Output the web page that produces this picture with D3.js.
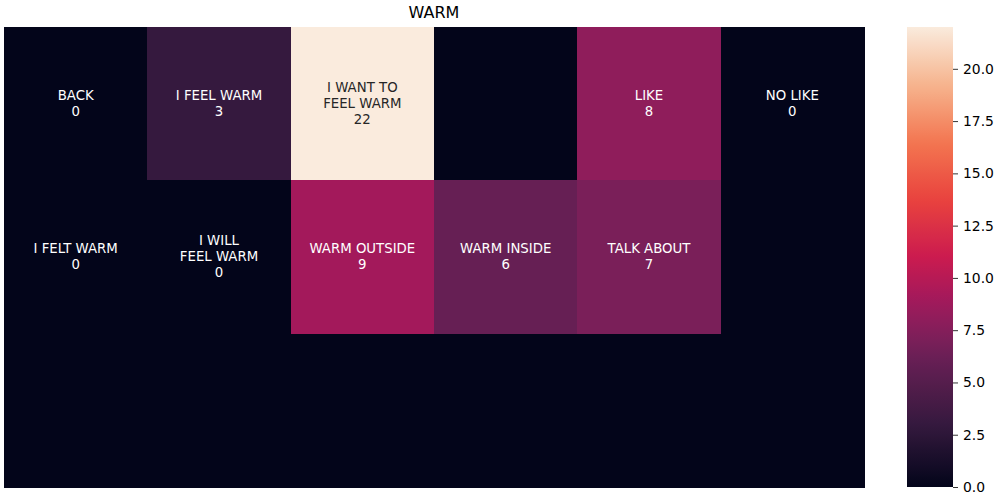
<!DOCTYPE html>
<html>
<head>
<meta charset="utf-8">
<script src="https://cdn.jsdelivr.net/npm/d3@7"></script>
<style>
  body { margin: 0; background: #fff; }
  text { font-family: "DejaVu Sans", sans-serif; }
</style>
</head>
<body>
<div id="viz"></div>
<script>
// chart data: one row per heatmap row, "" means no annotation
const chartTitle = "WARM";
const rowLabels = [
  ["BACK", "I FEEL WARM", "I WANT TO\nFEEL WARM", "", "LIKE", "NO LIKE"],
  ["I FELT WARM", "I WILL\nFEEL WARM", "WARM OUTSIDE", "WARM INSIDE", "TALK ABOUT", ""],
  ["", "", "", "", "", ""]
];
const rowValues = [
  [0, 3, 22, 0, 8, 0],
  [0, 0, 9, 6, 7, 0],
  [0, 0, 0, 0, 0, 0]
];
const colorbarTicks = [0, 2.5, 5, 7.5, 10, 12.5, 15, 17.5, 20];

// approximation of seaborn "rocket"
const rocketStops = [0, 0.136, 0.273, 0.318, 0.364, 0.409, 0.5, 0.625, 0.75, 0.875, 1];
const rocketColors = ["#03051A", "#35193E", "#661F54", "#7A1F59", "#8F1D5B", "#A3195B",
                      "#CB1B4F", "#E9433E", "#F37651", "#F6B48E", "#FAEBDD"];

const width = 1000, height = 500;
const margin = {left: 4, top: 27, right: 136, bottom: 13};
const plotW = width - margin.left - margin.right;
const plotH = height - margin.top - margin.bottom;

const svg = d3.select("#viz").append("svg")
  .attr("width", width)
  .attr("height", height);

const nRows = rowValues.length, nCols = rowValues[0].length;
const maxVal = d3.max(rowValues.flat());

const xScale = d3.scaleBand().domain(d3.range(nCols)).range([margin.left, margin.left + plotW]);
const yScale = d3.scaleBand().domain(d3.range(nRows)).range([margin.top, margin.top + plotH]);

const rocket = d3.scaleLinear()
  .domain(rocketStops.map(s => s * maxVal))
  .range(rocketColors)
  .interpolate(d3.interpolateRgb);

// flatten into cells
let cells = [];
rowValues.forEach((row, r) => row.forEach((v, c) => {
  cells.push({row: r, col: c, value: v, label: rowLabels[r][c]});
}));

const g = svg.append("g");
g.selectAll("rect")
  .data(cells)
  .enter().append("rect")
    .attr("x", d => xScale(d.col))
    .attr("y", d => yScale(d.row))
    .attr("width", xScale.bandwidth() + 1)
    .attr("height", yScale.bandwidth() + 1)
    .attr("shape-rendering", "crispEdges")
    .style("fill", d => rocket(d.value));

// annotations: label lines plus the value
const lineH = 16;
const annot = g.selectAll("text.annot")
  .data(cells.filter(d => d.label !== ""))
  .enter().append("text")
    .attr("class", "annot")
    .attr("text-anchor", "middle")
    .attr("font-size", "13.3px")
    .style("fill", d => d.value / maxVal > 0.6 ? "#262626" : "#ffffff");

annot.each(function(d) {
  let lines = d.label.split("\n").concat([String(d.value)]);
  let cx = xScale(d.col) + xScale.bandwidth() / 2;
  let cy = yScale(d.row) + yScale.bandwidth() / 2;
  let y0 = cy - (lines.length - 1) / 2 * lineH;
  d3.select(this).selectAll("tspan")
    .data(lines)
    .enter().append("tspan")
      .attr("x", cx)
      .attr("y", (l, i) => y0 + i * lineH)
      .attr("dy", "0.3em")
      .text(l => l);
});

// title
svg.append("text")
  .attr("x", margin.left + plotW / 2)
  .attr("y", 18)
  .attr("text-anchor", "middle")
  .attr("font-size", "16px")
  .text(chartTitle);

// colorbar
const cbX = 907, cbW = 46;
const defs = svg.append("defs");
const grad = defs.append("linearGradient")
  .attr("id", "cbgrad")
  .attr("x1", 0).attr("y1", 1).attr("x2", 0).attr("y2", 0);
grad.selectAll("stop")
  .data(d3.range(0, 1.0001, 0.02))
  .enter().append("stop")
    .attr("offset", t => t)
    .attr("stop-color", t => rocket(t * maxVal));

svg.append("rect")
  .attr("x", cbX)
  .attr("y", margin.top)
  .attr("width", cbW)
  .attr("height", plotH)
  .style("fill", "url(#cbgrad)");

const cbScale = d3.scaleLinear().domain([0, maxVal]).range([margin.top + plotH, margin.top]);
const cbAxis = svg.append("g")
  .attr("transform", "translate(" + (cbX + cbW) + ",0)")
  .call(d3.axisRight(cbScale)
    .tickValues(colorbarTicks)
    .tickFormat(d3.format(".1f"))
    .tickSize(5)
    .tickPadding(5));
cbAxis.select(".domain").remove();
cbAxis.selectAll("text")
  .attr("font-size", "13.9px")
  .attr("font-family", "DejaVu Sans, sans-serif")
  .style("fill", "#000");
cbAxis.selectAll("line").style("stroke", "#000").style("stroke-width", 0.8);
</script>
</body>
</html>
